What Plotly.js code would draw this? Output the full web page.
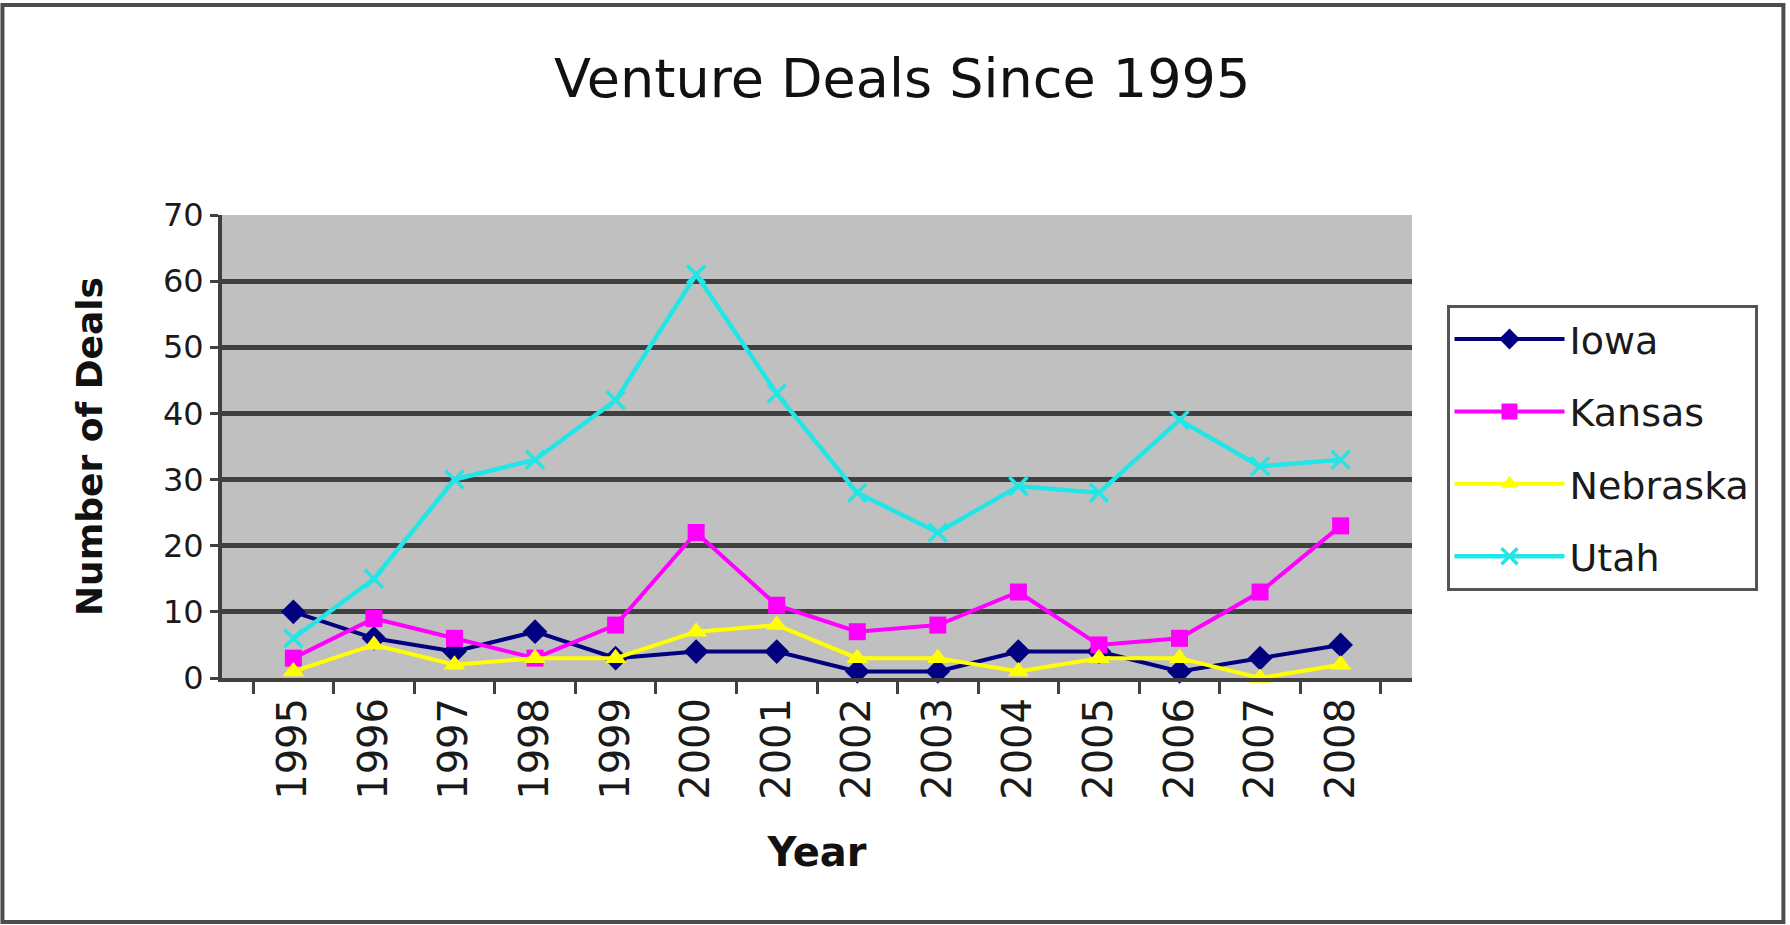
<!DOCTYPE html>
<html>
<head>
<meta charset="utf-8">
<script src="https://cdn.plot.ly/plotly-3.0.1.min.js"></script>
<style>
html, body { margin: 0; padding: 0; background: #ffffff; }
#chart { width: 1790px; height: 925px; }
</style>
</head>
<body>
<div id="chart"></div>
<script>
var years = ["1995","1996","1997","1998","1999","2000","2001","2002","2003","2004","2005","2006","2007","2008"];
var iowa     = [10, 6, 4, 7, 3, 4, 4, 1, 1, 4, 4, 1, 3, 5];
var kansas   = [3, 9, 6, 3, 8, 22, 11, 7, 8, 13, 5, 6, 13, 23];
var nebraska = [1, 5, 2, 3, 3, 7, 8, 3, 3, 1, 3, 3, 0, 2];
var utah     = [6, 15, 30, 33, 42, 61, 43, 28, 22, 29, 28, 39, 32, 33];
var seriesNames = ["Iowa", "Kansas", "Nebraska", "Utah"];
var yTicks = [0, 10, 20, 30, 40, 50, 60, 70];

var FONT = "DejaVu Sans, Verdana, sans-serif";

function mk(name, y, color, symbol, size, lw, group) {
  return {
    type: "scatter", mode: "lines+markers",
    name: name, x: years, y: y,
    legendgroup: group,
    cliponaxis: false,
    line: {color: color, width: lw},
    marker: {color: color, symbol: symbol, size: size,
             line: {color: color, width: symbol.indexOf("x") === 0 ? 3.5 : 0}}
  };
}

var data = [
  mk(seriesNames[0], iowa, "#000080", "diamond", 19, 4, "g1"),
  mk(seriesNames[1], kansas, "#ff00ff", "square", 17, 4, "g2"),
  mk(seriesNames[2], nebraska, "#ffff00", "triangle-up", 19, 4, "g3"),
  mk(seriesNames[3], utah, "#22e6e6", "x-thin", 18, 4.5, "g4")
];

var layout = {
  width: 1790, height: 925,
  margin: {l: 222, r: 378, t: 215, b: 247, pad: 0},
  paper_bgcolor: "#ffffff",
  plot_bgcolor: "#c0c0c0",
  font: {family: FONT, color: "#1a1a1a"},
  showlegend: true,
  title: {
    text: "Venture Deals Since 1995",
    font: {family: FONT, size: 54, color: "#111111"},
    x: 0.504, xref: "container", xanchor: "center",
    y: 0.916, yref: "container", yanchor: "middle"
  },
  xaxis: {
    type: "category",
    categoryorder: "array", categoryarray: years,
    tickson: "boundaries",
    ticks: "outside", ticklen: 12, tickwidth: 3, tickcolor: "#404040",
    tickangle: -90,
    tickfont: {family: FONT, size: 40, color: "#1a1a1a"},
    showline: true, linecolor: "#404040", linewidth: 4,
    showgrid: false, zeroline: false,
    automargin: false,
    title: {text: "Year", font: {family: FONT, size: 40, weight: "bold", color: "#111111"}, standoff: 40}
  },
  yaxis: {
    range: [0, 70],
    tickmode: "array", tickvals: yTicks, ticktext: yTicks.map(String),
    ticks: "outside", ticklen: 8, tickwidth: 3, tickcolor: "#404040",
    ticklabelstandoff: 0,
    tickfont: {family: FONT, size: 32, color: "#1a1a1a"},
    showline: true, linecolor: "#404040", linewidth: 4,
    showgrid: true, gridcolor: "#404040", gridwidth: 5,
    zeroline: false,
    automargin: false,
    title: {text: "Number of Deals", font: {family: FONT, size: 36, weight: "bold", color: "#111111"}, standoff: 50}
  },
  legend: {
    x: 1.029, xanchor: "left", xref: "paper",
    y: 0.806, yanchor: "top", yref: "paper",
    bgcolor: "#ffffff",
    bordercolor: "#555555", borderwidth: 3,
    font: {family: FONT, size: 38, color: "#1a1a1a"},
    traceorder: "grouped",
    tracegroupgap: 20,
    itemwidth: 110
  },
  shapes: [{
    type: "rect", xref: "paper", yref: "paper",
    x0: -0.1845, x1: 1.3121, y0: -0.527, y1: 1.4536,
    line: {color: "#4d4d4d", width: 4}, fillcolor: "rgba(0,0,0,0)",
    layer: "above"
  }]
};

Plotly.newPlot("chart", data, layout, {displayModeBar: false, staticPlot: true});
</script>
</body>
</html>
